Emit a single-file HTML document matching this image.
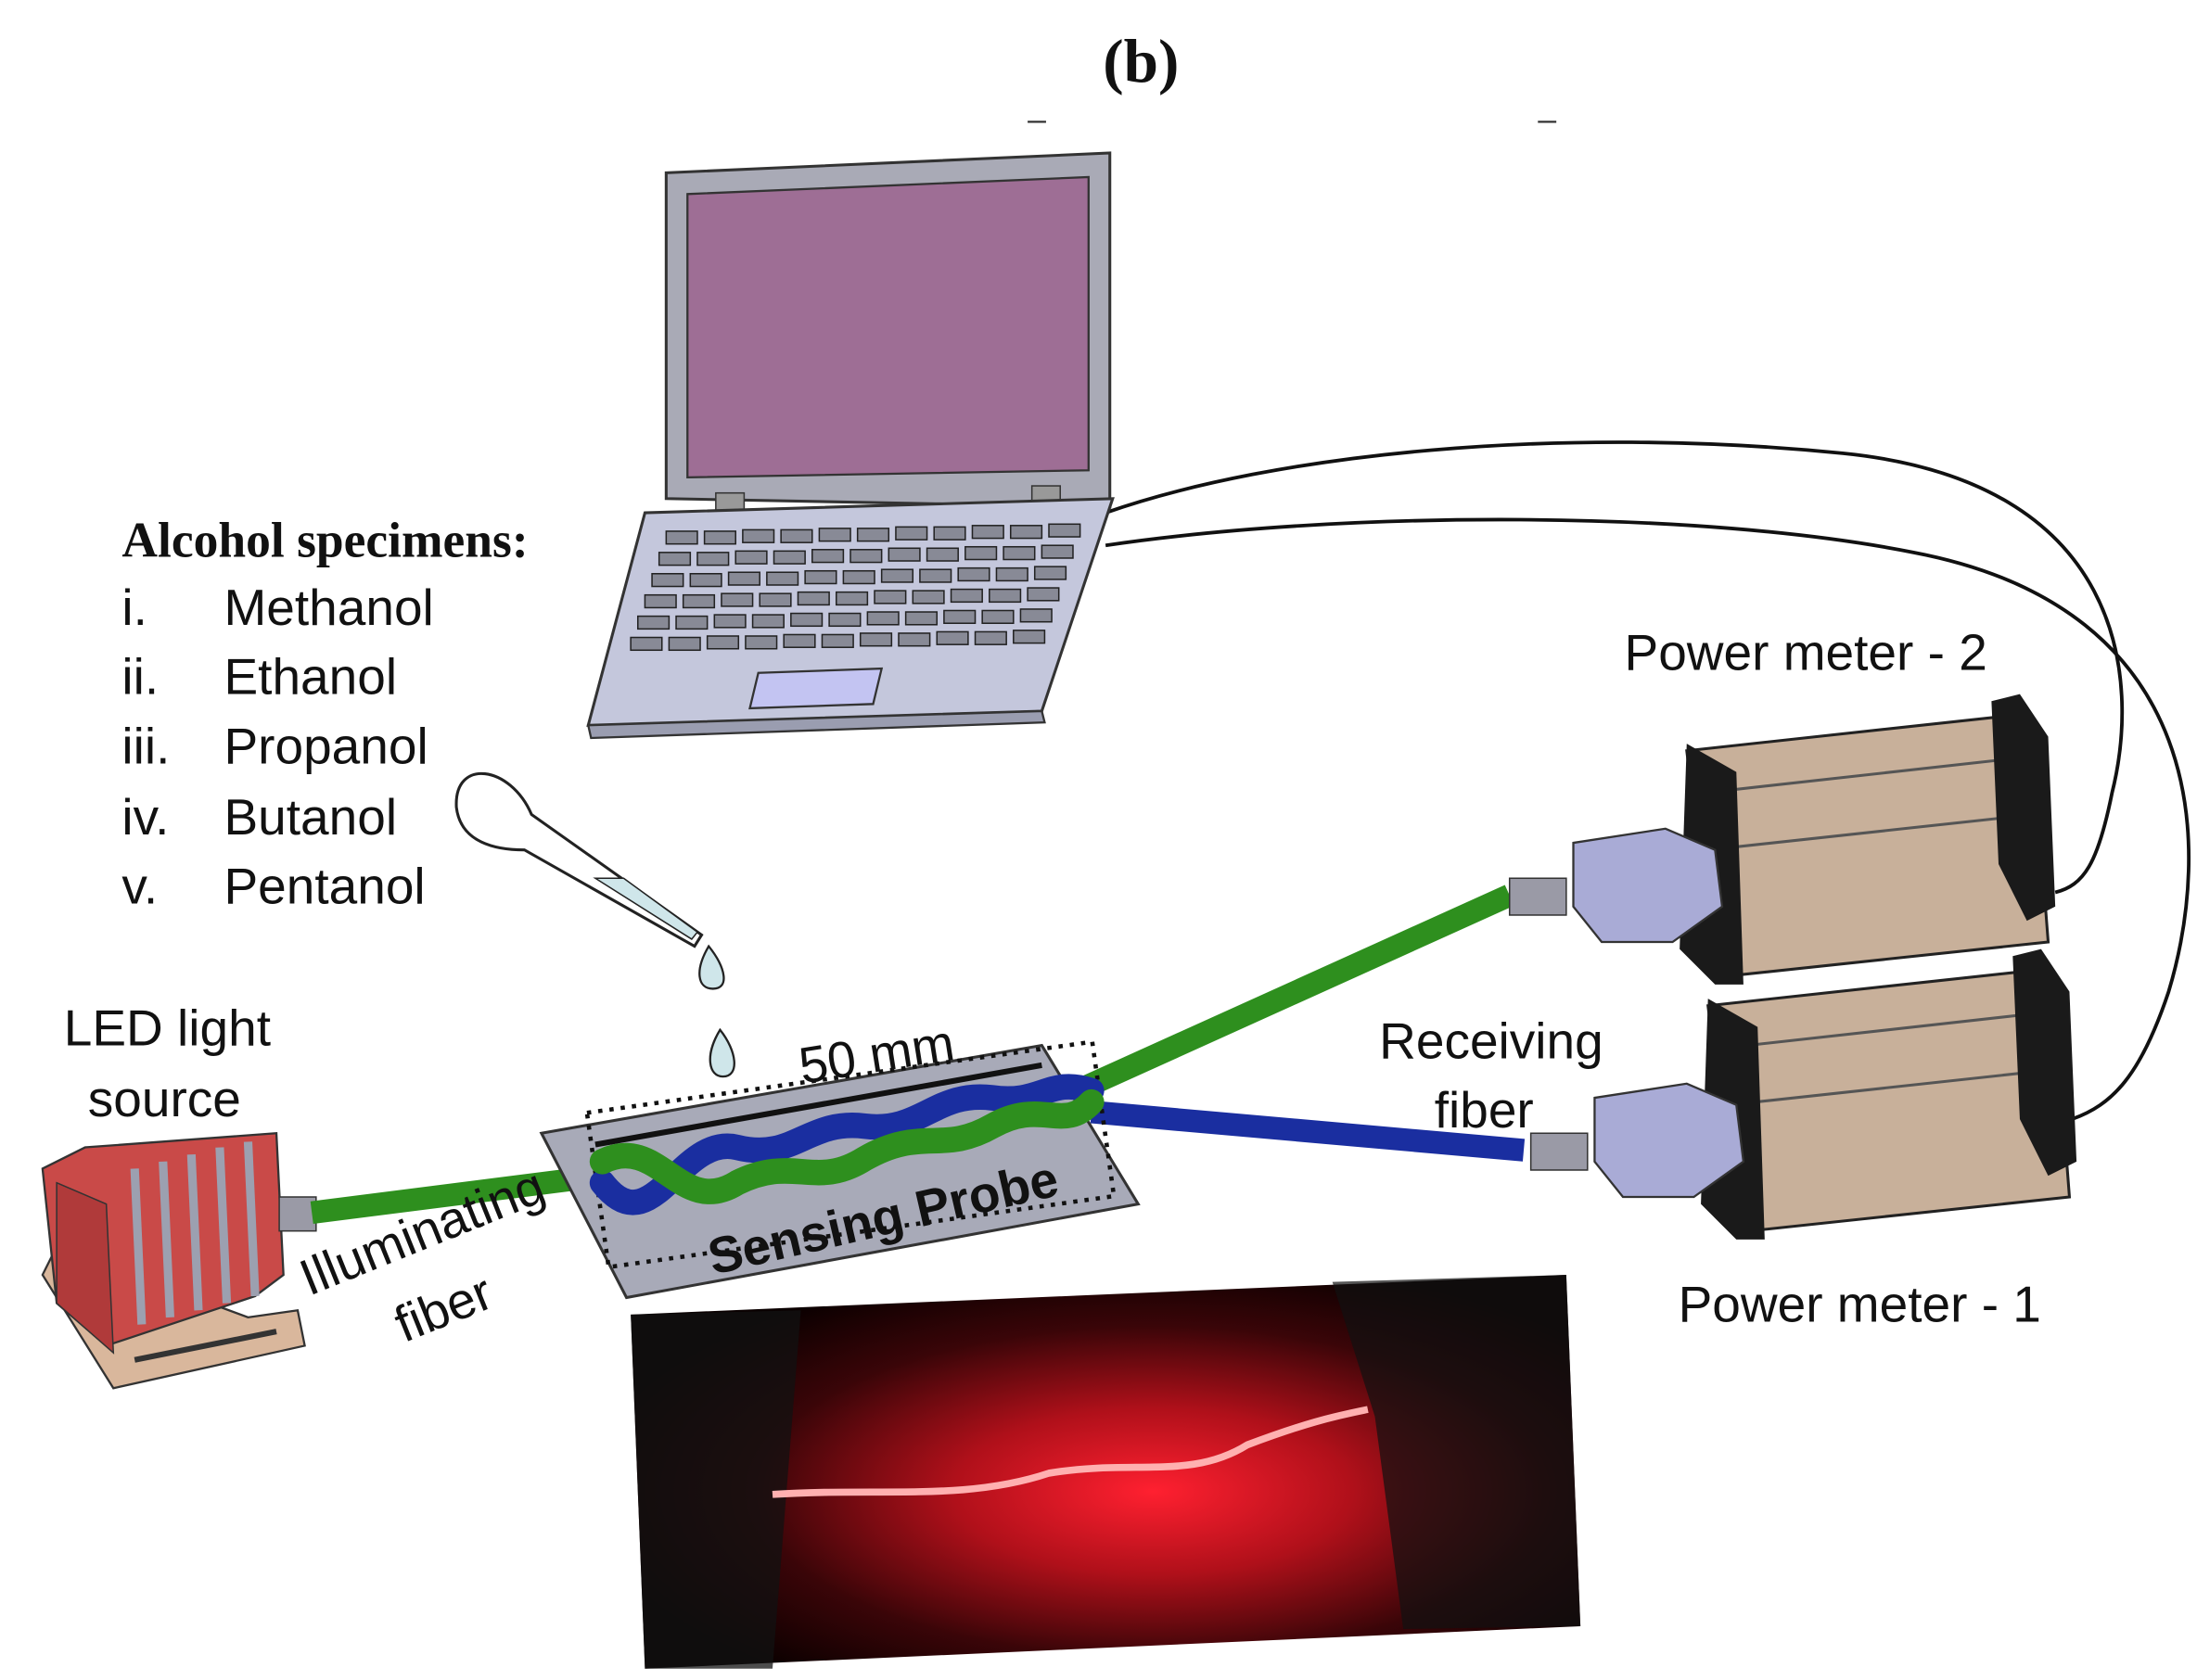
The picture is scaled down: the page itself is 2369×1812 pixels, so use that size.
<!DOCTYPE html>
<html><head><meta charset="utf-8"><style>
html,body{margin:0;padding:0;background:#fff;}
svg{display:block;}
.t{font-family:"Liberation Sans","DejaVu Sans",sans-serif;fill:#111;}
.s{font-family:"Liberation Serif",serif;fill:#111;font-weight:bold;}
</style></head><body>
<svg width="2369" height="1812" viewBox="0 0 1550 1186" preserveAspectRatio="none" xmlns="http://www.w3.org/2000/svg">
<defs>
<radialGradient id="glow" cx="0.55" cy="0.55" r="0.6">
<stop offset="0" stop-color="#ff2030"/>
<stop offset="0.35" stop-color="#b0101a"/>
<stop offset="0.7" stop-color="#3a0508"/>
<stop offset="1" stop-color="#0a0000"/>
</radialGradient>
</defs>
<text class="s" x="805" y="58" font-size="44" text-anchor="middle">(b)</text>
<line x1="725" y1="86" x2="738" y2="86" stroke="#333" stroke-width="1.5"/>
<line x1="1085" y1="86" x2="1098" y2="86" stroke="#333" stroke-width="1.5"/>

<path d="M780,362 C900,320 1100,300 1300,320 C1500,340 1510,480 1490,560 C1480,610 1470,625 1450,630" fill="none" stroke="#111" stroke-width="2.5"/>
<path d="M780,385 C950,360 1200,360 1350,390 C1560,430 1560,600 1530,700 C1510,760 1490,780 1462,790" fill="none" stroke="#111" stroke-width="2.5"/>

<polygon points="470,122 783,108 783,358 470,352" fill="#a9aab6" stroke="#333" stroke-width="2"/>
<polygon points="485,137 768,125 768,332 485,337" fill="#9e6e95" stroke="#333" stroke-width="1.5"/>
<rect x="505" y="348" width="20" height="14" fill="#999" stroke="#333"/>
<rect x="728" y="343" width="20" height="14" fill="#999" stroke="#333"/>
<polygon points="455,362 785,352 735,502 415,512" fill="#c4c7dc" stroke="#333" stroke-width="2"/>
<polygon points="415,512 735,502 737,510 417,521" fill="#9a9db0" stroke="#333" stroke-width="1.5"/>
<g fill="#888a96" stroke="#222" stroke-width="1">
<g id="kr">
<rect x="470" y="375" width="22" height="9"/><rect x="497" y="375" width="22" height="9"/><rect x="524" y="374" width="22" height="9"/><rect x="551" y="374" width="22" height="9"/><rect x="578" y="373" width="22" height="9"/><rect x="605" y="373" width="22" height="9"/><rect x="632" y="372" width="22" height="9"/><rect x="659" y="372" width="22" height="9"/><rect x="686" y="371" width="22" height="9"/><rect x="713" y="371" width="22" height="9"/><rect x="740" y="370" width="22" height="9"/>
</g>
<use href="#kr" transform="translate(-5,15)"/>
<use href="#kr" transform="translate(-10,30)"/>
<use href="#kr" transform="translate(-15,45)"/>
<use href="#kr" transform="translate(-20,60)"/>
<use href="#kr" transform="translate(-25,75)"/>
</g>
<polygon points="535,475 622,472 616,497 529,500" fill="#c3c4f2" stroke="#333" stroke-width="1.5"/>

<text class="s" x="86" y="393" font-size="35">Alcohol specimens:</text>
<g class="t" font-size="36">
<text x="86" y="441">i.</text><text x="158" y="441">Methanol</text>
<text x="86" y="490">ii.</text><text x="158" y="490">Ethanol</text>
<text x="86" y="539">iii.</text><text x="158" y="539">Propanol</text>
<text x="86" y="589">iv.</text><text x="158" y="589">Butanol</text>
<text x="86" y="638">v.</text><text x="158" y="638">Pentanol</text>
</g>

<path d="M370,600 L490,668 L495,660 L375,575 C360,540 320,535 322,570 C325,595 350,600 370,600 Z" fill="#fff" stroke="#222" stroke-width="2"/>
<path d="M420,620 L488,663 L492,658 L440,620 Z" fill="#cfe6ea" stroke="#222" stroke-width="1"/>
<path d="M500,668 C490,685 492,698 503,698 C515,698 512,683 500,668 Z" fill="#cfe6ea" stroke="#222" stroke-width="1.5"/>
<path d="M508,727 C497,745 500,760 510,760 C522,760 520,742 508,727 Z" fill="#cfe6ea" stroke="#222" stroke-width="1.5"/>

<polygon points="30,900 80,980 215,950 210,925 175,930 40,880" fill="#d9b79c" stroke="#333" stroke-width="1.5"/>
<line x1="95" y1="960" x2="195" y2="940" stroke="#333" stroke-width="4"/>
<polygon points="30,825 60,810 195,800 200,900 180,915 75,950 40,920" fill="#c94a48" stroke="#333" stroke-width="1.5"/>
<polygon points="40,835 75,850 80,955 40,920" fill="#b03a3a" stroke="#333" stroke-width="1"/>
<g stroke="#9ca0b0" stroke-width="6">
<line x1="95" y1="825" x2="100" y2="935"/><line x1="115" y1="820" x2="120" y2="930"/><line x1="135" y1="815" x2="140" y2="925"/><line x1="155" y1="810" x2="160" y2="920"/><line x1="175" y1="806" x2="180" y2="915"/>
</g>
<rect x="197" y="845" width="26" height="24" fill="#9a9aa6" stroke="#333"/>

<line x1="220" y1="856" x2="425" y2="830" stroke="#2e8f1e" stroke-width="16"/>
<line x1="760" y1="770" x2="1065" y2="632" stroke="#2e8f1e" stroke-width="16"/>
<line x1="770" y1="785" x2="1075" y2="812" stroke="#1a2ea0" stroke-width="16"/>

<polygon points="382,800 735,738 803,850 442,916" fill="#a8aab8" stroke="#333" stroke-width="2"/>
<line x1="420" y1="808" x2="735" y2="752" stroke="#111" stroke-width="4"/>
<rect x="420" y="760" width="360" height="110" fill="none" stroke="#111" stroke-width="3" stroke-dasharray="3,5" transform="rotate(-8 600 815)"/>
<g stroke-width="18" fill="none" stroke-linecap="round">
<path d="M425,835 C460,880 480,800 520,810 C560,820 570,790 610,795 C650,800 660,770 700,775 C735,780 740,760 770,770" stroke="#1a2ea0"/>
<path d="M425,820 C465,800 480,860 520,835 C560,815 575,840 610,818 C650,795 665,815 700,795 C735,775 750,800 770,778" stroke="#2e8f1e"/>
</g>

<g id="pm">
<polygon points="1190,530 1420,505 1440,600 1445,665 1210,690" fill="#c8b09a" stroke="#222" stroke-width="2"/>
<line x1="1200" y1="560" x2="1425" y2="535" stroke="#555" stroke-width="2"/>
<line x1="1205" y1="600" x2="1435" y2="575" stroke="#555" stroke-width="2"/>
<polygon points="1190,525 1225,545 1230,695 1210,695 1185,670" fill="#1a1a1a"/>
<polygon points="1405,495 1425,490 1445,520 1450,640 1430,650 1410,610" fill="#1a1a1a"/>
<polygon points="1110,595 1175,585 1210,600 1215,640 1180,665 1130,665 1110,640" fill="#a9abd6" stroke="#333" stroke-width="1.5"/>
<rect x="1065" y="620" width="40" height="26" fill="#9a9aa6" stroke="#333"/>
</g>
<use href="#pm" transform="translate(15,180)"/>

<polygon points="445,928 1105,900 1115,1148 455,1178" fill="url(#glow)"/>
<polygon points="445,928 565,925 545,1178 455,1178" fill="#111" opacity="0.75"/>
<polygon points="940,905 1105,900 1115,1148 990,1150 970,1000" fill="#111" opacity="0.7"/>
<path d="M545,1055 C620,1050 680,1060 740,1040 C800,1030 840,1045 880,1020 C920,1005 940,1000 965,995" fill="none" stroke="#ffb0b0" stroke-width="5"/>

<g class="t" font-size="36">
<text x="1146" y="473">Power meter - 2</text>
<text x="1184" y="933">Power meter - 1</text>
<text x="973" y="747">Receiving</text>
<text x="1012" y="796">fiber</text>
<text x="45" y="738">LED light</text>
<text x="62" y="788">source</text>
<text x="0" y="0" transform="translate(218,915) rotate(-22)">Illuminating</text>
<text x="0" y="0" transform="translate(285,948) rotate(-22)">fiber</text>
<text x="0" y="0" transform="translate(566,765) rotate(-9)">50 mm</text>
<text x="0" y="0" font-weight="bold" transform="translate(503,900) rotate(-13)">Sensing Probe</text>
</g>
</svg>
</body></html>
